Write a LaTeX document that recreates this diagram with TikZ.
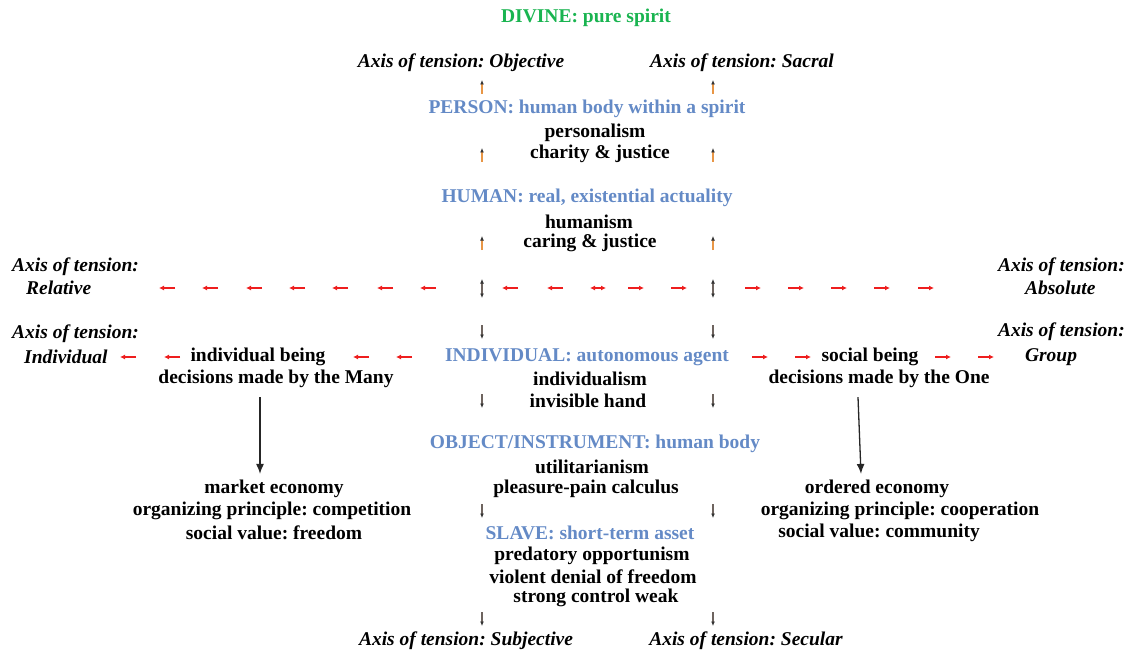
\documentclass[tikz,border=0pt]{standalone}
\usepackage{fontspec}
\setmainfont{Liberation Serif}
\usetikzlibrary{arrows.meta}
\frenchspacing
\definecolor{headblue}{RGB}{100,138,198}
\definecolor{divgreen}{RGB}{25,180,80}
\definecolor{arrred}{RGB}{238,30,30}
\definecolor{tickup}{RGB}{232,150,70}
\definecolor{tickdn}{RGB}{110,100,95}
\tikzset{
	txt/.style     = {inner sep=0pt, font=\fontsize{19.5}{22}\selectfont\bfseries},
	headtxt/.style = {txt, text=headblue},
	axis/.style    = {inner sep=0pt, align=left,
		font=\fontsize{19.5}{23}\selectfont\bfseries\itshape},
	redarr/.style  = {draw=arrred, line width=1.2pt, ->,
		>={Latex[length=5pt,width=5pt]}},
	uptick/.style  = {draw=tickup, line width=1.3pt, ->,
		>={Latex[length=4.5pt,width=4pt,color=black!80]}},
	dntick/.style  = {draw=tickdn, line width=1.3pt, ->,
		>={Latex[length=4.5pt,width=4pt,color=black!80]}},
	bigarr/.style  = {draw=black!85, line width=1.3pt, ->,
		>={Latex[length=10pt,width=8pt]}}
}

\begin{document}
\begin{tikzpicture}[x=1pt, y=-1pt]
	\useasboundingbox (0,-2) rectangle (1128,648);
	\draw
	node at (586,16) [txt,text=divgreen] (divine) {DIVINE: pure spirit}
	node at (461,61) [axis] (objective) {Axis of tension: Objective}
	node at (742,61) [axis] (sacral) {Axis of tension: Sacral}
	node at (587,107) [headtxt] (person) {PERSON: human body within a spirit}
	node at (595,131) [txt] (persism) {personalism}
	node at (600,152) [txt] (charity) {charity \& justice}
	node at (587,196) [headtxt] (human) {HUMAN: real, existential actuality}
	node at (589,220) [txt] (humism) {humanism}
	node at (590,241) [txt] (caring) {caring \& justice}
	node at (587,355) [headtxt] (indiv) {INDIVIDUAL: autonomous agent}
	node at (590,377) [txt] (indism) {individualism}
	node at (588,399) [txt] (hand) {invisible hand}
	node at (595,442) [headtxt] (object) {OBJECT/INSTRUMENT: human body}
	node at (592,465) [txt] (utilism) {utilitarianism}
	node at (586,487) [txt] (calculus) {pleasure-pain calculus}
	node at (590,531) [headtxt] (slave) {SLAVE: short-term asset}
	node at (592,554) [txt] (predatory) {predatory opportunism}
	node at (593,575) [txt] (violent) {violent denial of freedom}
	node at (596,596) [txt] (strong) {strong control weak}
	node at (466,639) [axis] (subjective) {Axis of tension: Subjective}
	node at (746,639) [axis] (secular) {Axis of tension: Secular};

	% left and right columns
	\draw
	node at (12,274) [axis,anchor=west] (relative) {Axis of tension:\\\hspace*{14pt}Relative}
	node at (12,342) [axis,anchor=west] (individual) {Axis of tension:\\[2pt]\hspace*{12pt}Individual}
	node at (1125,274) [axis,anchor=east] (absolute) {Axis of tension:\\\hspace*{27pt}Absolute}
	node at (1125,342) [axis,anchor=east] (group) {Axis of tension:\\[2pt]\hspace*{27pt}Group}
	node at (258,355) [txt] (being) {individual being}
	node at (276,377) [txt] (many) {decisions made by the Many}
	node at (274,487) [txt] (market) {market economy}
	node at (272,509) [txt] (compet) {organizing principle: competition}
	node at (274,531) [txt] (freedom) {social value: freedom}
	node at (870,355) [txt] (social) {social being}
	node at (879,377) [txt] (one) {decisions made by the One}
	node at (877,487) [txt] (ordered) {ordered economy}
	node at (900,509) [txt] (coop) {organizing principle: cooperation}
	node at (879,531) [txt] (community) {social value: community};

	\draw[bigarr] ([xshift=-16pt,yshift=-9pt]many.south) -- ([xshift=-14pt,yshift=6pt]market.north);
	\draw[bigarr] ([xshift=-21pt,yshift=-9pt]one.south) -- ([xshift=-16pt,yshift=6pt]ordered.north);

	% red arrows
	\foreach \x in {167,210,254,297,340,385,428,510,555}
		\draw[redarr] (\x+8,286) -- (\x-8,286);
	\draw[redarr,<->] (590,286) -- (606,286);
	\foreach \x in {636,679,753,796,839,882,926}
		\draw[redarr] (\x-8,286) -- (\x+8,286);
	\foreach \x in {128,172,361,404}
		\draw[redarr] (\x+8,355) -- (\x-8,355);
	\foreach \x in {760,803,943,986}
		\draw[redarr] (\x-8,355) -- (\x+8,355);

	% small arrows
	\foreach \y in {85,153,241}
		\foreach \x in {482,713}
			\draw[uptick] (\x,\y+7) -- (\x,\y-7);
	\foreach \x in {482,713}
		\draw[dntick,<->] (\x,277) -- (\x,296);
	\foreach \y in {330,399,509,617}
		\foreach \x in {482,713}
			\draw[dntick] (\x,\y-7) -- (\x,\y+7);
\end{tikzpicture}
\end{document}
